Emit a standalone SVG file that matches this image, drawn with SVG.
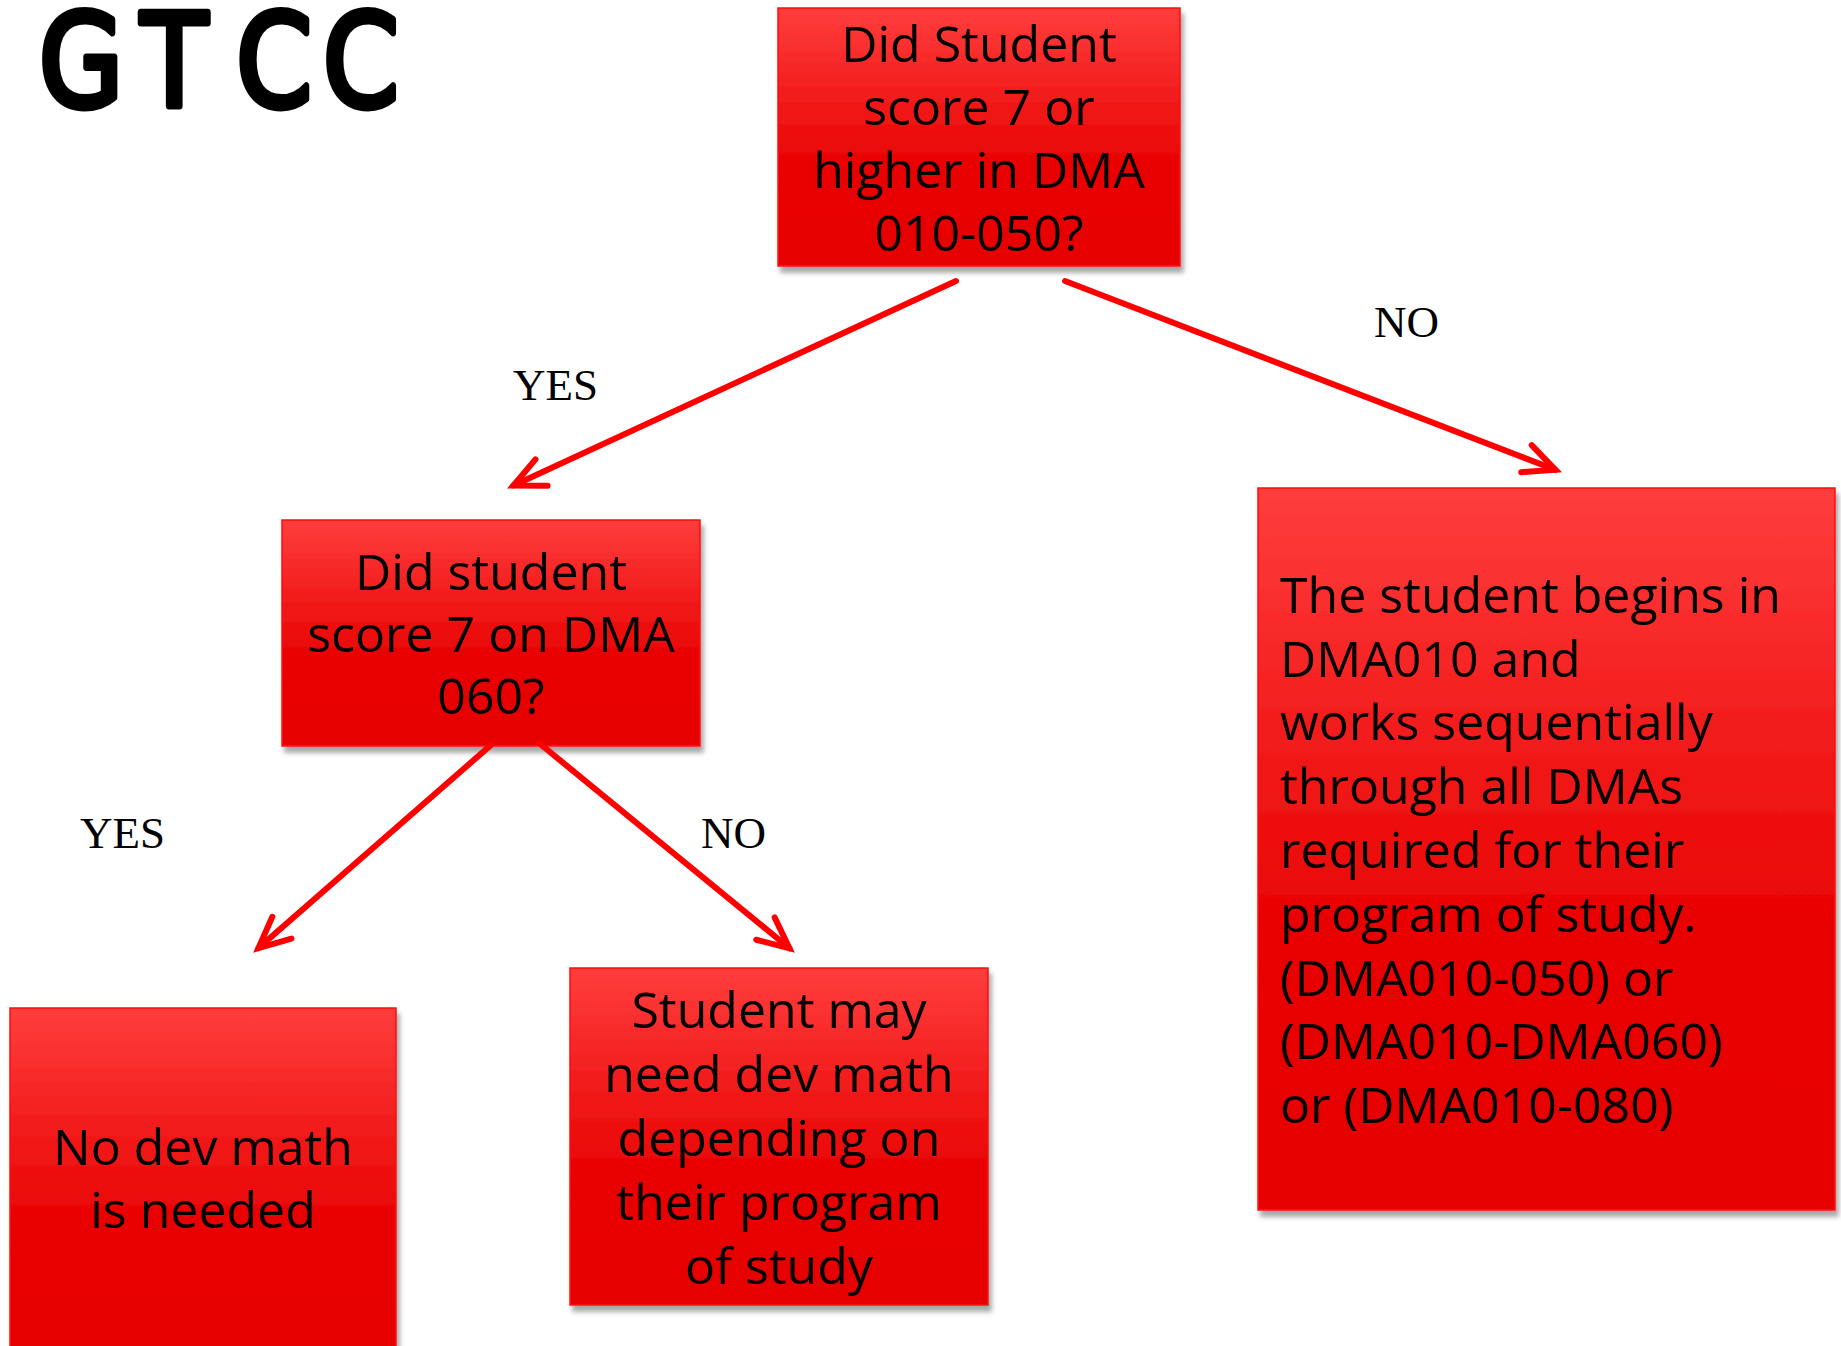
<svg xmlns="http://www.w3.org/2000/svg" width="1841" height="1346" viewBox="0 0 1841 1346">
  <defs>
    <linearGradient id="redFill" x1="0" y1="0" x2="0" y2="1">
      <stop offset="0" stop-color="#ff3d3d"/>
      <stop offset="0.6" stop-color="#e90303"/>
      <stop offset="1" stop-color="#e60000"/>
    </linearGradient>
    <filter id="shadow" x="-5%" y="-5%" width="115%" height="120%">
      <feDropShadow dx="3" dy="6" stdDeviation="2.5" flood-color="#000" flood-opacity="0.35"/>
    </filter>
    <marker id="arr" markerUnits="userSpaceOnUse" markerWidth="50" markerHeight="50" viewBox="-40 -25 50 50" refX="0" refY="0" orient="auto" overflow="visible">
      <path d="M-31,-14.5 L0,0 L-31,14.5" fill="none" stroke="#ff0000" stroke-width="6" stroke-linecap="round" stroke-linejoin="miter"/>
    </marker>
  </defs>
  <style>
    .box { fill: url(#redFill); stroke: #ff0d0d; stroke-width: 1.5; filter: url(#shadow); }
    .nt { font-family: "Open Sans", "Noto Sans", "DejaVu Sans", sans-serif; font-size: 50px; fill: #000; }
    .c { text-anchor: middle; }
    .lbl { font-family: "Liberation Serif", "Times New Roman", serif; font-size: 45px; fill: #000; }
    .conn { fill: none; stroke: #ff0000; stroke-width: 6; stroke-linecap: round; marker-end: url(#arr); }
    .title { font-family: "DejaVu Sans", sans-serif; font-size: 128px; fill: #000; stroke: #000; stroke-width: 7; stroke-linejoin: round; stroke-linecap: round; }
  </style>
  <rect x="0" y="0" width="1841" height="1346" fill="#fff"/>

  <g id="title">
    <text class="title" transform="scale(0.85,1)" x="46 166 278 380" y="106">GTCC</text>
  </g>

  <g id="q1">
    <rect class="box" x="778" y="8" width="402" height="258"/>
    <text class="nt c" x="979" y="62">Did Student</text>
    <text class="nt c" x="979" y="125">score 7 or</text>
    <text class="nt c" x="979" y="188">higher in DMA</text>
    <text class="nt c" x="979" y="251">010-050?</text>
  </g>

  <g id="q2">
    <rect class="box" x="282" y="520" width="418" height="226"/>
    <text class="nt c" x="491" y="590">Did student</text>
    <text class="nt c" x="491" y="652">score 7 on DMA</text>
    <text class="nt c" x="491" y="714">060?</text>
  </g>

  <g id="sequential">
    <rect class="box" x="1258" y="488" width="577" height="722"/>
    <text class="nt" x="1280" y="613">The student begins in</text>
    <text class="nt" x="1280" y="677">DMA010 and</text>
    <text class="nt" x="1280" y="740">works sequentially</text>
    <text class="nt" x="1280" y="804">through all DMAs</text>
    <text class="nt" x="1280" y="868">required for their</text>
    <text class="nt" x="1280" y="932">program of study.</text>
    <text class="nt" x="1280" y="996">(DMA010-050) or</text>
    <text class="nt" x="1280" y="1059">(DMA010-DMA060)</text>
    <text class="nt" x="1280" y="1123">or (DMA010-080)</text>
  </g>

  <g id="nodev">
    <rect class="box" x="10" y="1008" width="386" height="350"/>
    <text class="nt c" x="203" y="1165">No dev math</text>
    <text class="nt c" x="203" y="1228">is needed</text>
  </g>

  <g id="maybe">
    <rect class="box" x="570" y="968" width="418" height="337"/>
    <text class="nt c" x="779" y="1028">Student may</text>
    <text class="nt c" x="779" y="1092">need dev math</text>
    <text class="nt c" x="779" y="1156">depending on</text>
    <text class="nt c" x="779" y="1220">their program</text>
    <text class="nt c" x="779" y="1284">of study</text>
  </g>

  <g id="connectors">
    <path class="conn" d="M956,281 L513.4,485.5"/>
    <path class="conn" d="M1065,281 L1555.4,469.8"/>
    <path class="conn" d="M491,745 L258.5,948.1"/>
    <path class="conn" d="M539,743 L789.4,948.2"/>
    <text class="lbl" x="513" y="400">YES</text>
    <text class="lbl" x="1374" y="337">NO</text>
    <text class="lbl" x="80" y="848">YES</text>
    <text class="lbl" x="701" y="848">NO</text>
  </g>
</svg>
